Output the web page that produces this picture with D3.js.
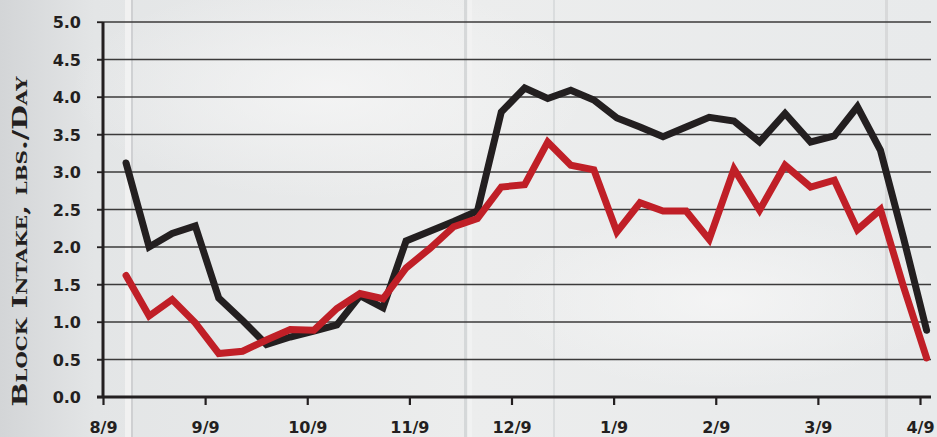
<!DOCTYPE html>
<html>
<head>
<meta charset="utf-8">
<script src="https://cdn.jsdelivr.net/npm/d3@7"></script>
<style>
  html, body { margin: 0; padding: 0; background: #e6e8e9; }
  svg { display: block; }
</style>
</head>
<body>
<div id="chart"></div>
<script>
// month ticks on the x axis (evenly spaced on the original)
const monthTicks = ['2010-08-09', '2010-09-09', '2010-10-09', '2010-11-09', '2010-12-09',
  '2011-01-09', '2011-02-09', '2011-03-09', '2011-04-09'];
const monthLabels = ['8/9', '9/9', '10/9', '11/9', '12/9', '1/9', '2/9', '3/9', '4/9'];

// weekly readings
const weeks = ['2010-08-16', '2010-08-23', '2010-08-30', '2010-09-06', '2010-09-13', '2010-09-20',
  '2010-09-27', '2010-10-04', '2010-10-11', '2010-10-18', '2010-10-25', '2010-11-01',
  '2010-11-08', '2010-11-15', '2010-11-22', '2010-11-29', '2010-12-06', '2010-12-13',
  '2010-12-20', '2010-12-27', '2011-01-03', '2011-01-10', '2011-01-17', '2011-01-24',
  '2011-01-31', '2011-02-07', '2011-02-14', '2011-02-21', '2011-02-28', '2011-03-07',
  '2011-03-14', '2011-03-21', '2011-03-28', '2011-04-04', '2011-04-11'];

const blackSeries = [3.12, 2.00, 2.18, 2.28, 1.32, 1.02, 0.70, 0.80, 0.88, 0.96, 1.35, 1.19,
  2.08, 2.21, 2.34, 2.48, 3.80, 4.12, 3.98, 4.09, 3.96, 3.72, 3.60, 3.47, 3.60, 3.73,
  3.68, 3.40, 3.78, 3.40, 3.48, 3.87, 3.29, 2.12, 0.89];

const redSeries = [1.62, 1.08, 1.30, 0.99, 0.58, 0.61, 0.76, 0.90, 0.89, 1.18, 1.38, 1.31,
  1.72, 1.98, 2.27, 2.38, 2.80, 2.83, 3.40, 3.09, 3.03, 2.20, 2.59, 2.48, 2.48, 2.10,
  3.04, 2.49, 3.09, 2.80, 2.89, 2.23, 2.50, 1.47, 0.52];

const yTicks = [0, 0.5, 1, 1.5, 2, 2.5, 3, 3.5, 4, 4.5, 5];

const width = 937;
const height = 437;
const margin = { top: 22, right: 6, bottom: 40, left: 103 };
const tickStep = 102.125;
const ink = '#231f20';

const parse = d3.timeParse('%Y-%m-%d');

const svg = d3
  .select('#chart')
  .append('svg')
  .attr('width', width)
  .attr('height', height);

// weathered board background
const defs = svg.append('defs');
const bg = defs.append('linearGradient').attr('id', 'bg').attr('x1', 0).attr('x2', 1).attr('y1', 0).attr('y2', 0);
bg.append('stop').attr('offset', '0').attr('stop-color', '#d3d5d7');
bg.append('stop').attr('offset', '0.1').attr('stop-color', '#e3e5e6');
bg.append('stop').attr('offset', '0.5').attr('stop-color', '#eceded');
bg.append('stop').attr('offset', '1').attr('stop-color', '#e8eaeb');
const glow = defs.append('radialGradient').attr('id', 'glow');
glow.append('stop').attr('offset', '0').attr('stop-color', '#f6f6f6').attr('stop-opacity', 0.8);
glow.append('stop').attr('offset', '1').attr('stop-color', '#f6f6f6').attr('stop-opacity', 0);

svg.append('rect').attr('width', width).attr('height', height).attr('fill', 'url(#bg)');
svg.append('ellipse').attr('cx', 330).attr('cy', 90).attr('rx', 260).attr('ry', 110).attr('fill', 'url(#glow)');
svg.append('ellipse').attr('cx', 720).attr('cy', 300).attr('rx', 220).attr('ry', 90).attr('fill', 'url(#glow)');

// board seams
svg
  .append('g')
  .selectAll('rect')
  .data([[125, 6, '#f4f4f4'], [131, 2, '#c9cbcd'], [464, 3, '#d0d2d3'], [468, 4, '#f2f2f2'], [553, 2, '#d6d8d9'], [885, 3, '#d3d5d6']])
  .join('rect')
  .attr('x', d => d[0])
  .attr('y', 0)
  .attr('width', d => d[1])
  .attr('height', height)
  .attr('fill', d => d[2])
  .attr('opacity', 0.8);

// scales
const x = d3
  .scaleTime()
  .domain(monthTicks.map(parse))
  .range(monthTicks.map((d, i) => margin.left + i * tickStep));

const y = d3
  .scaleLinear()
  .domain([0, 5])
  .range([height - margin.bottom, margin.top]);

const plotRight = width - margin.right;

// gridlines
svg
  .append('g')
  .selectAll('line')
  .data(yTicks.filter(d => d > 0))
  .join('line')
  .attr('x1', margin.left - 6)
  .attr('x2', plotRight)
  .attr('y1', d => y(d))
  .attr('y2', d => y(d))
  .attr('stroke', '#3b3a3a')
  .attr('stroke-width', 1.3);

// y axis labels
const yAxis = svg
  .append('g')
  .attr('transform', `translate(${margin.left},0)`)
  .call(d3.axisLeft(y).tickValues(yTicks).tickFormat(d3.format('.1f')).tickSize(6).tickPadding(16));
yAxis.select('.domain').remove();
yAxis.selectAll('line').attr('stroke', ink).attr('stroke-width', 1.3);
yAxis
  .selectAll('text')
  .attr('font-family', 'DejaVu Sans')
  .attr('font-weight', 'bold')
  .attr('font-size', 16)
  .attr('fill', ink)
  .attr('dy', '0.36em');

// x axis
const xAxis = svg
  .append('g')
  .attr('transform', `translate(0,${y(0)})`)
  .call(
    d3
      .axisBottom(x)
      .tickValues(monthTicks.map(parse))
      .tickFormat((d, i) => monthLabels[i])
      .tickSize(8)
      .tickSizeOuter(0)
      .tickPadding(17)
  );
xAxis.select('.domain').remove();
xAxis.selectAll('line').attr('stroke', ink).attr('stroke-width', 2.2);
xAxis
  .selectAll('text')
  .attr('font-family', 'DejaVu Sans')
  .attr('font-weight', 'bold')
  .attr('font-size', 16)
  .attr('fill', ink);

// axis lines
svg
  .append('line')
  .attr('x1', margin.left - 6)
  .attr('x2', plotRight)
  .attr('y1', y(0))
  .attr('y2', y(0))
  .attr('stroke', ink)
  .attr('stroke-width', 3.2);
svg
  .append('line')
  .attr('x1', margin.left)
  .attr('x2', margin.left)
  .attr('y1', y(5))
  .attr('y2', y(0))
  .attr('stroke', ink)
  .attr('stroke-width', 3);

// y title
svg
  .append('text')
  .attr('transform', `translate(27,${(76 + 407) / 2}) rotate(-90)`)
  .attr('text-anchor', 'middle')
  .attr('font-family', 'DejaVu Serif')
  .attr('font-weight', 'bold')
  .attr('font-size', 20)
  .attr('fill', ink)
  .style('font-variant', 'small-caps')
  .attr('textLength', 330)
  .attr('lengthAdjust', 'spacingAndGlyphs')
  .text('Block Intake, lbs./Day');

// lines
const line = d3
  .line()
  .x((d, i) => x(parse(weeks[i])))
  .y(d => y(d));

svg
  .append('g')
  .selectAll('path')
  .data([
    { values: blackSeries, color: ink },
    { values: redSeries, color: '#c01f27' }
  ])
  .join('path')
  .attr('d', d => line(d.values))
  .attr('fill', 'none')
  .attr('stroke', d => d.color)
  .attr('stroke-width', 7)
  .attr('stroke-linejoin', 'miter')
  .attr('stroke-miterlimit', 3)
  .attr('stroke-linecap', 'round');
</script>
</body>
</html>
